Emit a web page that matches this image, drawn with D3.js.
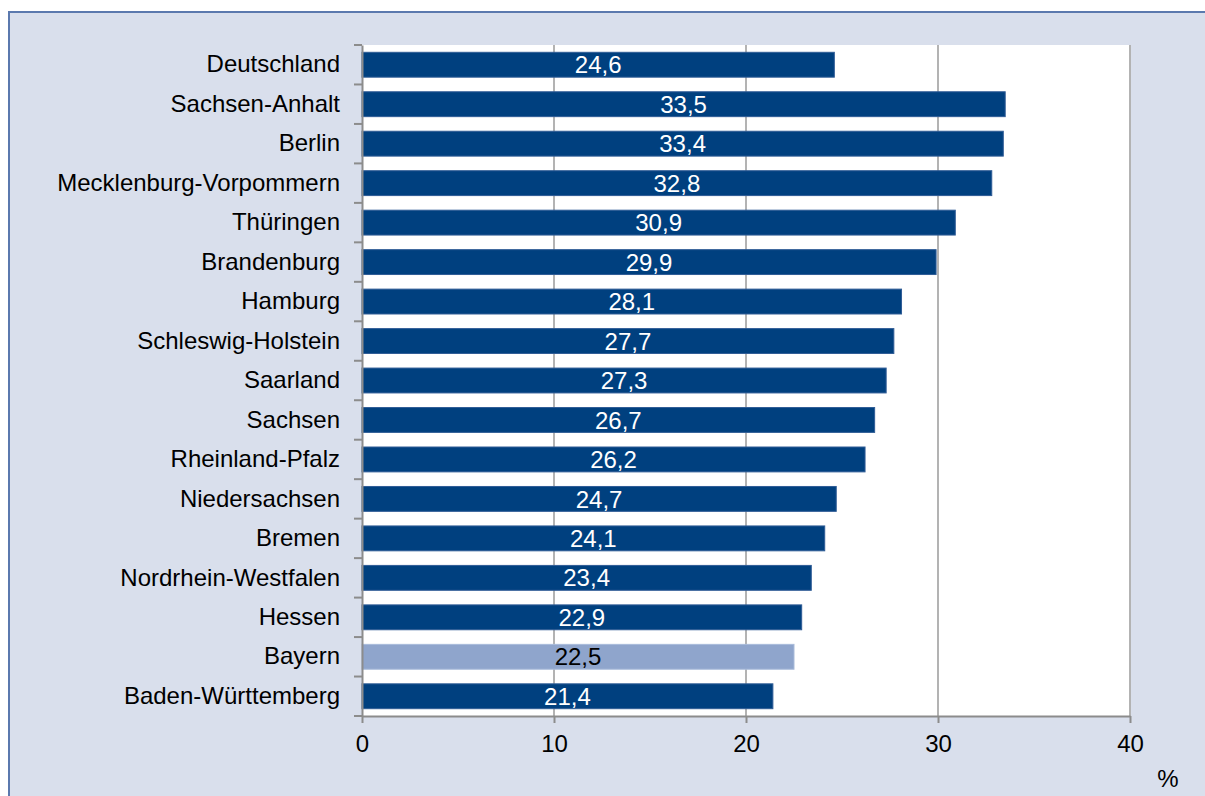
<!DOCTYPE html>
<html>
<head>
<meta charset="utf-8">
<script src="https://cdn.jsdelivr.net/npm/d3@7"></script>
<style>
    body { margin: 0; background: #fff; }
    svg { display: block; }
    svg text { font-family: "Liberation Sans", Arial, sans-serif; }
</style>
</head>
<body>
<svg id="chart" width="1205" height="796"></svg>
<script>
    'use strict';

    var categories = [
        'Deutschland', 'Sachsen-Anhalt', 'Berlin', 'Mecklenburg-Vorpommern', 'Thüringen',
        'Brandenburg', 'Hamburg', 'Schleswig-Holstein', 'Saarland', 'Sachsen',
        'Rheinland-Pfalz', 'Niedersachsen', 'Bremen', 'Nordrhein-Westfalen', 'Hessen',
        'Bayern', 'Baden-Württemberg'
    ];
    var values = [24.6, 33.5, 33.4, 32.8, 30.9, 29.9, 28.1, 27.7, 27.3, 26.7, 26.2, 24.7, 24.1, 23.4, 22.9, 22.5, 21.4];
    var highlight = ['Bayern'];
    var xTicks = [0, 10, 20, 30, 40];
    var unitLabel = '%';

    var FONT_SIZE = 24;
    var COLORS = {
        PANEL: '#D9DFEC',
        PANEL_BORDER: '#5B79AE',
        BAR: '#00407F',
        BAR_HIGHLIGHT: '#8FA5CC',
        GRID: '#B3B3B3',
        AXIS: '#8C8C8C'
    };

    var svg = d3.select('#chart');
    var plot = { left: 362, right: 1130, top: 45, bottom: 716 };

    var x = d3.scaleLinear().domain([0, 40]).range([plot.left, plot.right]);
    var y = d3.scaleBand().domain(categories).range([plot.top, plot.bottom]).paddingInner(0.37).paddingOuter(0.185);

    function isHighlighted(name) {
        return highlight.indexOf(name) >= 0;
    }

    // outer panel
    svg.append('rect')
        .attr('x', 9).attr('y', 12)
        .attr('width', 1220).attr('height', 800)
        .attr('fill', COLORS.PANEL)
        .attr('stroke', COLORS.PANEL_BORDER)
        .attr('stroke-width', 2);

    // plot area
    svg.append('rect')
        .attr('x', plot.left).attr('y', plot.top)
        .attr('width', plot.right - plot.left).attr('height', plot.bottom - plot.top)
        .attr('fill', '#fff');

    // grid
    svg.append('g').selectAll('line')
        .data(xTicks.slice(1))
        .enter().append('line')
        .attr('x1', x).attr('x2', x)
        .attr('y1', plot.top).attr('y2', plot.bottom)
        .attr('stroke', COLORS.GRID)
        .attr('stroke-width', 2);

    // bars
    var bars = svg.append('g').selectAll('g')
        .data(categories.map(function (c, i) { return { name: c, value: values[i] }; }))
        .enter().append('g');

    bars.append('rect')
        .attr('x', x(0))
        .attr('y', function (d) { return y(d.name); })
        .attr('width', function (d) { return x(d.value) - x(0); })
        .attr('height', y.bandwidth())
        .attr('fill', function (d) { return isHighlighted(d.name) ? COLORS.BAR_HIGHLIGHT : COLORS.BAR; })
        .attr('stroke', function (d) { return isHighlighted(d.name) ? '#A9BBDA' : '#2F5C96'; })
        .attr('stroke-width', 1);

    bars.append('text')
        .attr('x', function (d) { return (x(0) + x(d.value)) / 2; })
        .attr('y', function (d) { return y(d.name) + y.bandwidth() / 2; })
        .attr('dy', '0.36em')
        .attr('text-anchor', 'middle')
        .attr('font-size', FONT_SIZE)
        .attr('fill', function (d) { return isHighlighted(d.name) ? '#000' : '#fff'; })
        .text(function (d) { return d3.format('.1f')(d.value).replace('.', ','); });

    // y axis
    var yAxis = svg.append('g')
        .attr('transform', 'translate(' + plot.left + ',0)')
        .call(d3.axisLeft(y).tickSize(0).tickPadding(22));
    yAxis.attr('font-size', FONT_SIZE).attr('font-family', null);
    yAxis.select('.domain').attr('stroke', COLORS.AXIS).attr('stroke-width', 2);
    yAxis.selectAll('text').attr('fill', '#000');

    // y ticks between categories
    var boundaries = categories.map(function (c) { return y(c) - y.step() * y.paddingInner() / 2; });
    boundaries.push(plot.bottom);
    svg.append('g').selectAll('line')
        .data(boundaries)
        .enter().append('line')
        .attr('x1', plot.left - 8).attr('x2', plot.left)
        .attr('y1', function (d) { return Math.max(d, plot.top); })
        .attr('y2', function (d) { return Math.max(d, plot.top); })
        .attr('stroke', COLORS.AXIS)
        .attr('stroke-width', 2);

    // x axis
    var xAxis = svg.append('g')
        .attr('transform', 'translate(0,' + plot.bottom + ')')
        .call(d3.axisBottom(x).tickValues(xTicks).tickSize(7).tickPadding(12).tickFormat(d3.format('d')).tickSizeOuter(0));
    xAxis.attr('font-size', FONT_SIZE).attr('font-family', null);
    xAxis.select('.domain').attr('stroke', COLORS.AXIS).attr('stroke-width', 2);
    xAxis.selectAll('line').attr('stroke', COLORS.AXIS).attr('stroke-width', 2);
    xAxis.selectAll('text').attr('fill', '#000');

    svg.append('text')
        .attr('x', 1168).attr('y', 787)
        .attr('text-anchor', 'middle')
        .attr('font-size', FONT_SIZE)
        .text(unitLabel);
</script>
</body>
</html>
